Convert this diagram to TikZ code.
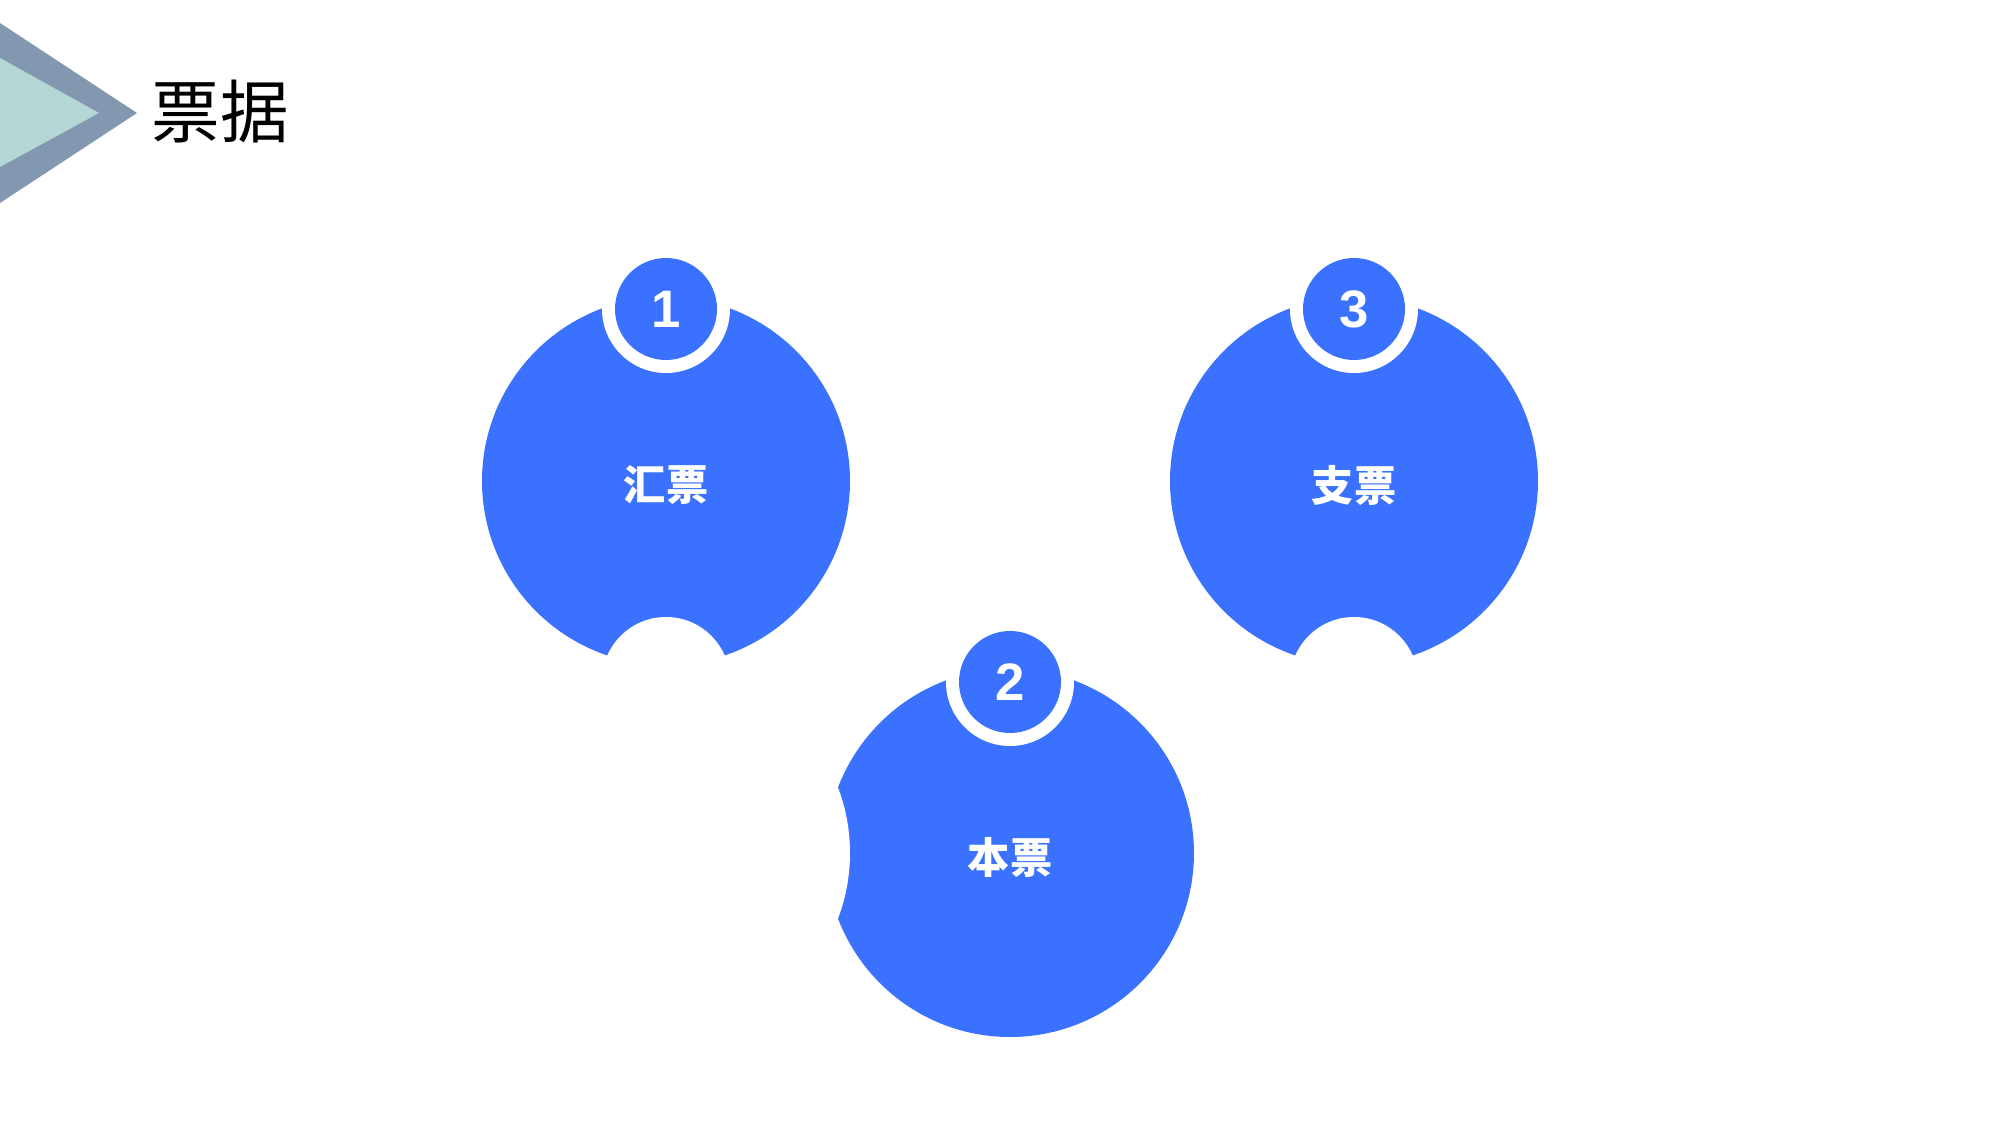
\documentclass[tikz,border=0pt]{standalone}
\usepackage{fontspec}
\usepackage{xcolor}
\usepackage{tikz}
\newfontfamily\cjk{Noto Sans CJK SC}
\newfontfamily\numfont{Liberation Sans}
\definecolor{disc}{HTML}{3A72FF}
\definecolor{slate}{HTML}{8497B0}
\definecolor{mint}{HTML}{B4D6D4}
\tikzset{
  bigdisc/.style={fill=disc},
  cutout/.style={fill=white},
  numdot/.style={circle, fill=disc, minimum size=10.2mm, inner sep=0pt, text=white,
    font=\numfont\bfseries\fontsize{15}{15}\selectfont},
  lbl/.style={text=white, inner sep=0pt, font=\cjk\bfseries\fontsize{12}{12}\selectfont},
  ttl/.style={text=black, inner sep=0pt, font=\cjk\fontsize{19.5}{19.5}\selectfont}
}

\begin{document}
\begin{tikzpicture}[x=0.1mm, y=-0.1mm]
  \useasboundingbox (0,0) rectangle (2000,1125);
  % title mark
  \fill[slate] (0,23) -- (137,113) -- (0,203) -- cycle;
  \fill[mint] (0,58) -- (99,113) -- (0,167) -- cycle;
  \node[ttl, anchor=west] (title) at (151,112) {票据};

  \coordinate (C1) at (666,481);
  \coordinate (R1) at (666,309);
  \coordinate (C2) at (1010,853);
  \coordinate (R2) at (1010,682);
  \coordinate (C3) at (1354,481);
  \coordinate (R3) at (1354,309);

  % discs, then ring and notch cut out in white
  \fill[bigdisc] (C1) circle[radius=18.4mm];
  \fill[bigdisc] (C2) circle[radius=18.4mm];
  \fill[bigdisc] (C3) circle[radius=18.4mm];
  \fill[cutout] (R1) circle[radius=6.4mm] (666,681) circle[radius=6.4mm];
  \fill[cutout] (R2) circle[radius=6.4mm] (666,853) circle[radius=18.4mm];
  \fill[cutout] (R3) circle[radius=6.4mm] (1354,681) circle[radius=6.4mm];

  \node[numdot] (n1) at (R1) {1};
  \node[numdot] (n2) at (R2) {2};
  \node[numdot] (n3) at (R3) {3};
  \node[lbl] (t1) at ([yshift=-0.4mm]C1) {汇票};
  \node[lbl] (t2) at ([yshift=-0.4mm]C2) {本票};
  \node[lbl] (t3) at ([yshift=-0.4mm]C3) {支票};
\end{tikzpicture}
\end{document}
